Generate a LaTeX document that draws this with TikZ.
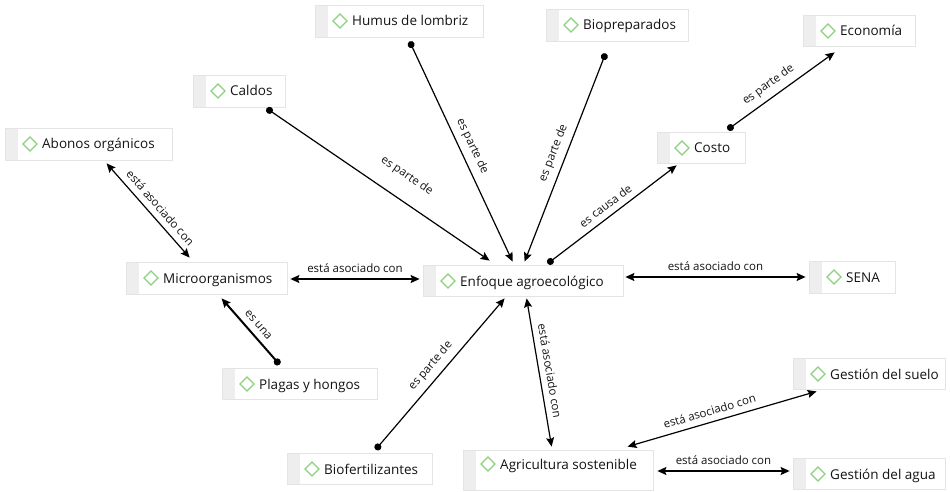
\documentclass[tikz,border=0pt]{standalone}
\usepackage{fontspec}
\setmainfont{Open Sans}
\usetikzlibrary{arrows.meta,calc,fit}
\definecolor{stripgray}{RGB}{238,238,238}
\definecolor{bordergray}{RGB}{228,228,228}
\definecolor{diamgreen}{RGB}{140,210,125}
\definecolor{txt}{RGB}{20,20,20}
\tikzset{
  cbox/.style={draw=bordergray, line width=0.8pt, fill=white, inner sep=0pt,
    path picture={\fill[stripgray] (path picture bounding box.north west) rectangle ([xshift=12.5pt]path picture bounding box.south west);}},
  ctext/.style={font=\fontsize{13.5}{16}\selectfont, text=txt, inner sep=0pt, anchor=base west},
  diam/.style={draw=diamgreen, line width=1.2pt, line join=miter},
  link/.style={line width=1.2pt, draw=black},
  tipA/.tip={Stealth[length=9pt,width=8pt,inset=1.5pt]},
  both/.style={link, tipA-tipA},
  dotarrow/.style={link, {Circle[length=7pt]}-tipA},
  lbl/.style={font=\fontsize{11.5}{13}\selectfont, text=txt, sloped, above=5pt, inner sep=1pt}
}
\newcommand{\concept}[7]{%
  \node[cbox, fit={(#2,#3)(#4,#5)}] (#1) {};
  \draw[diam] (#2+18,#3+#7) -- (#2+25,#3+#7-7) -- (#2+32,#3+#7) -- (#2+25,#3+#7+7) -- cycle;
  \node[ctext] (#1-t) at (#2+37,#3+#7+5) {#6};
}
\begin{document}
\begin{tikzpicture}[x=1pt,y=-1pt]
\fill[white] (0,0) rectangle (950,492);
\useasboundingbox (0,0) rectangle (950,492);

\concept{humus}{315}{5}{483}{37}{Humus de lombriz}{16}
\concept{biop}{546}{9}{688}{41}{Biopreparados}{16}
\concept{econ}{803}{15}{915}{46}{Economía}{16}
\concept{caldos}{193}{75}{285}{107}{Caldos}{16}
\concept{abonos}{5}{128}{172}{160}{Abonos orgánicos}{16}
\concept{costo}{657}{132}{745}{163}{Costo}{16}
\concept{micro}{126}{262}{287}{294}{Microorganismos}{16}
\concept{enfoque}{423}{265}{623}{296}{Enfoque agroecológico}{16}
\concept{sena}{809}{261}{895}{293}{SENA}{16}
\concept{plagas}{222}{368}{377}{399}{Plagas y hongos}{16}
\concept{biofert}{287}{453}{432}{484}{Biofertilizantes}{16}
\concept{agri}{463}{450}{653}{490}{Agricultura sostenible}{14}
\concept{suelo}{793}{358}{945}{389}{Gestión del suelo}{16}
\concept{agua}{793}{458}{945}{489}{Gestión del agua}{16}

% connectors
\draw[dotarrow] ($(caldos.south west)+(74,1)$) -- node[lbl, pos=0.57, above=11pt]{es parte de} ($(enfoque.north west)+(67,-4)$);
\draw[dotarrow] ($(humus.south west)+(95,4)$) -- node[lbl, pos=0.5]{es parte de} ($(enfoque.north west)+(90,-3)$);
\draw[dotarrow] ($(biop.south west)+(60,12)$) -- node[lbl, pos=0.5]{es parte de} ($(enfoque.north west)+(102,-3)$);
\draw[dotarrow] ($(enfoque.north west)+(125,-1)$) -- node[lbl, pos=0.5]{es causa de} ($(costo.south west)+(20,2)$);
\draw[dotarrow] ($(costo.north west)+(71,-2)$) -- node[lbl, pos=0.45]{es parte de} ($(econ.south west)+(32,6)$);
\draw[both] ($(abonos.south west)+(102,3)$) -- node[lbl, pos=0.55]{está asociado con} ($(micro.north west)+(64,-4)$);
\draw[both] ($(micro.east)+(3,1)$) -- node[lbl]{está asociado con} ($(enfoque.west)+(-3,-1.5)$);
\draw[both] ($(enfoque.east)+(2,-3.5)$) -- node[lbl]{está asociado con} ($(sena.west)+(-3,0)$);
\draw[dotarrow, line width=2pt] ($(plagas.north west)+(58,-3)$) -- node[lbl, pos=0.5]{es una} ($(micro.south west)+(96,4)$);
\draw[dotarrow] ($(biofert.north west)+(89,-3)$) -- node[lbl, pos=0.5]{es parte de} ($(enfoque.south west)+(82,2)$);
\draw[both] ($(enfoque.south west)+(104,2)$) -- node[lbl, pos=0.5]{está asociado con} ($(agri.north west)+(89,-3)$);
\draw[both] ($(agri.north west)+(165,-3)$) -- node[lbl, pos=0.45]{está asociado con} ($(suelo.south west)+(24,2)$);
\draw[both] ($(agri.east)+(4,1)$) -- node[lbl]{está asociado con} ($(agua.west)+(-3,-2.5)$);
\end{tikzpicture}
\end{document}
